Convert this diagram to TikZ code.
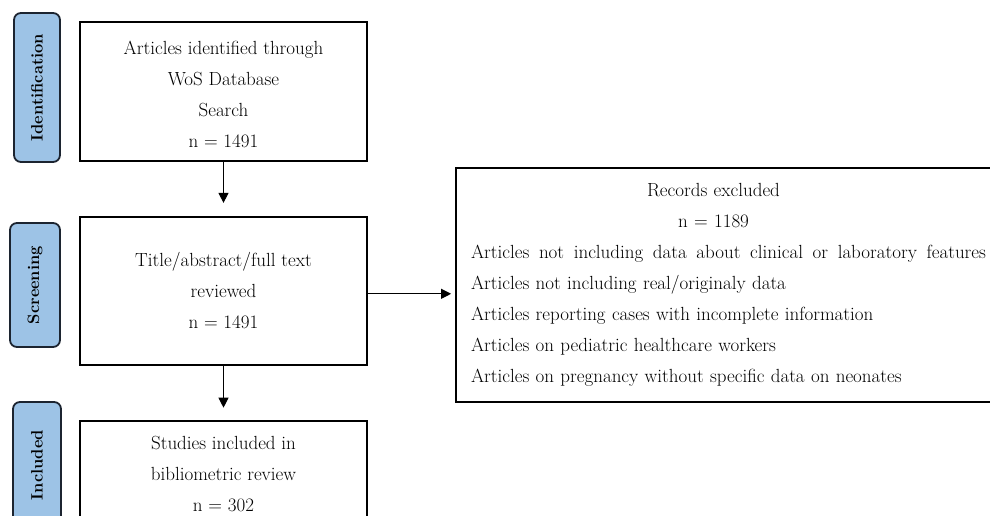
\documentclass[tikz,border=0pt]{standalone}
\usepackage{tikz}
\usetikzlibrary{arrows.meta,positioning}
\definecolor{stageblue}{HTML}{9DC3E6}
\definecolor{stageline}{HTML}{1C2430}

\begin{document}
\begin{tikzpicture}[x=1pt,y=-1pt,line width=1pt,
        >={Triangle[length=10pt,width=10pt]},
        box/.style={draw,line width=1.8pt,minimum width=287pt,align=center,
            font=\fontsize{19}{31}\selectfont},
        stage/.style={draw=stageline,fill=stageblue,line width=1.8pt,
            rounded corners=7pt,rotate=90,font=\bfseries\fontsize{16.5}{18}\selectfont}]
    \useasboundingbox (0,0) rectangle (990,516);
    \clip (0,0) rectangle (990,516);

    % main column
    \node[box,minimum height=139pt] (ident) at (223.5,91.5)
        {\rule{0pt}{20pt}Articles identified through\\WoS Database\\Search\\n = 1491};
    \node[box,minimum height=148pt] (screen) [below=54pt of ident]
        {Title/abstract/full text\\reviewed\\n = 1491};
    \node[box,minimum height=106pt] (incl) [below=54pt of screen]
        {Studies included in\\bibliometric review\\n = 302};

    % excluded records
    \node[box,minimum width=545pt,minimum height=234pt,text width=515pt,align=left]
        (excl) at (728.5,285)
        {\makebox[485pt]{Records excluded}\\
         \makebox[485pt]{n = 1189}\\
         Articles\hfill not\hfill including\hfill data\hfill about\hfill clinical\hfill or\hfill laboratory\hfill features\\
         Articles not including real/originaly data\\
         Articles reporting cases with incomplete information\\
         Articles on pediatric healthcare workers\\
         Articles on pregnancy without specific data on neonates};

    % stages
    \node[stage,minimum width=149pt,minimum height=46pt] (idlab) at (37,87.5) {Identification};
    \node[stage,minimum width=124pt,minimum height=50pt] (scrlab) at (35,285) {Screening};
    \node[stage,minimum width=126pt,minimum height=48pt] (inclab) at (37,465) {Included};

    \draw[->,shorten >=13pt] (ident) -- (screen);
    \draw[->,shorten >=12pt] (screen) -- (incl);
    \draw[->,shorten >=4pt] ([yshift=-3pt]screen.east) -- ([yshift=-3pt]screen.east -| excl.west);
\end{tikzpicture}
\end{document}
